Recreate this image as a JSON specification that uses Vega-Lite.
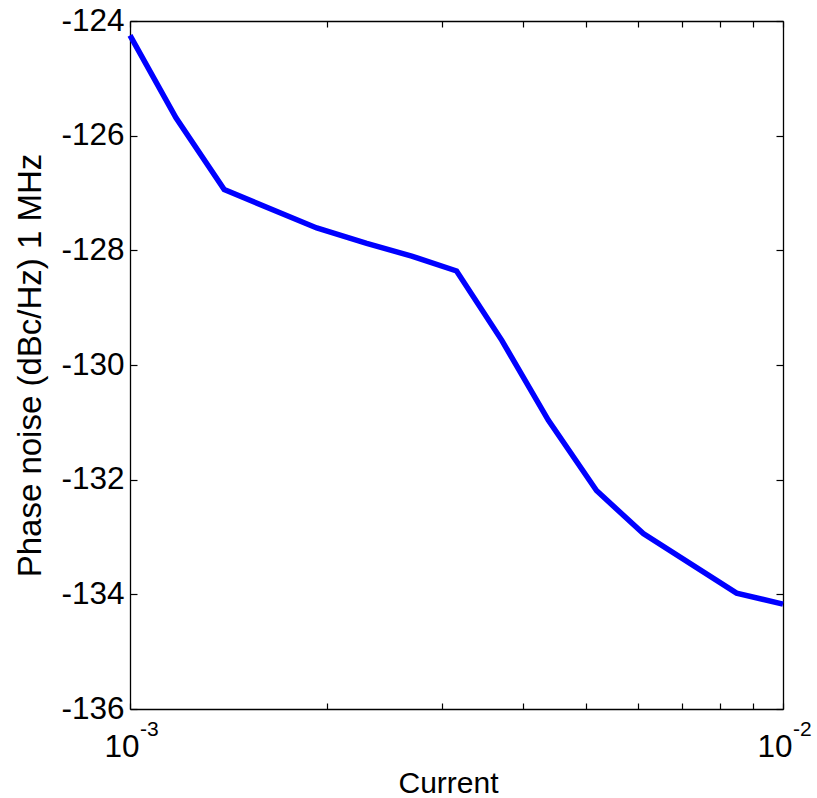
{
  "$schema": "https://vega.github.io/schema/vega-lite/v6.json",
  "width": 653,
  "height": 688,
  "autosize": "none",
  "padding": {"left": 130, "top": 21, "right": 34, "bottom": 89},
  "background": "white",
  "config": {
    "view": {"stroke": null},
    "font": "Liberation Sans",
    "axis": {
      "grid": false,
      "domainColor": "#000000",
      "domainWidth": 1.3,
      "tickColor": "#000000",
      "tickWidth": 1.2,
      "labelColor": "#000000",
      "titleColor": "#000000",
      "labelFont": "Liberation Sans",
      "titleFont": "Liberation Sans",
      "titleFontWeight": "normal"
    }
  },
  "datasets": {
    "noise": [
      {"current": 0.001, "noise": -124.25},
      {"current": 0.001176, "noise": -125.69},
      {"current": 0.001394, "noise": -126.94},
      {"current": 0.001932, "noise": -127.61},
      {"current": 0.002304, "noise": -127.88},
      {"current": 0.0027, "noise": -128.1},
      {"current": 0.003163, "noise": -128.36},
      {"current": 0.00371, "noise": -129.57},
      {"current": 0.00437, "noise": -130.96},
      {"current": 0.00518, "noise": -132.19},
      {"current": 0.00611, "noise": -132.94},
      {"current": 0.00849, "noise": -133.98},
      {"current": 0.01, "noise": -134.17}
    ],
    "decades": [
      {"current": 0.001, "base": "10", "exp": "-3"},
      {"current": 0.01, "base": "10", "exp": "-2"}
    ]
  },
  "layer": [
    {
      "data": {"name": "noise"},
      "mark": {"type": "line", "color": "#0000ff", "strokeWidth": 5.5},
      "encoding": {
        "x": {
          "field": "current",
          "type": "quantitative",
          "scale": {"type": "log", "domain": [0.001, 0.01]},
          "axis": {
            "orient": "bottom",
            "values": [0.001, 0.002, 0.003, 0.004, 0.005, 0.006, 0.007, 0.008, 0.009, 0.01],
            "labels": false,
            "tickSize": -6,
            "title": "Current",
            "titleFontSize": 30,
            "titleX": 318,
            "titleY": 83,
            "titleAlign": "center",
            "titleBaseline": "alphabetic"
          }
        },
        "y": {
          "field": "noise",
          "type": "quantitative",
          "scale": {"domain": [-136, -124]},
          "axis": {
            "orient": "left",
            "values": [-136, -134, -132, -130, -128, -126, -124],
            "labelExpr": "'' + datum.value",
            "tickSize": -7,
            "labelFontSize": 31.5,
            "labelPadding": 13,
            "labelAlign": "right",
            "labelBaseline": "middle",
            "labelFlush": false,
            "title": "Phase noise (dBc/Hz) 1 MHz",
            "titleFontSize": 33,
            "titleAngle": -90,
            "titleX": -90,
            "titleY": 344,
            "titleAlign": "center",
            "titleBaseline": "alphabetic"
          }
        }
      }
    },
    {
      "data": {"name": "noise"},
      "mark": {"type": "line", "opacity": 0},
      "encoding": {
        "x": {
          "field": "current",
          "type": "quantitative",
          "axis": {
            "orient": "top",
            "values": [0.001, 0.002, 0.003, 0.004, 0.005, 0.006, 0.007, 0.008, 0.009, 0.01],
            "labels": false,
            "tickSize": -6,
            "title": null
          }
        },
        "y": {
          "field": "noise",
          "type": "quantitative",
          "axis": {
            "orient": "right",
            "values": [-136, -134, -132, -130, -128, -126, -124],
            "labels": false,
            "tickSize": -7,
            "title": null
          }
        }
      }
    },
    {
      "data": {"name": "decades"},
      "mark": {"type": "text", "fontSize": 31.5, "align": "center", "baseline": "alphabetic", "dx": -8, "dy": 48, "color": "#000000"},
      "encoding": {
        "x": {"field": "current", "type": "quantitative", "axis": null},
        "y": {"datum": -136, "type": "quantitative", "axis": null},
        "text": {"field": "base"}
      }
    },
    {
      "data": {"name": "decades"},
      "mark": {"type": "text", "fontSize": 21, "align": "left", "baseline": "alphabetic", "dx": 10, "dy": 27, "color": "#000000"},
      "encoding": {
        "x": {"field": "current", "type": "quantitative", "axis": null},
        "y": {"datum": -136, "type": "quantitative", "axis": null},
        "text": {"field": "exp"}
      }
    }
  ],
  "resolve": {"axis": {"x": "independent", "y": "independent"}}
}
